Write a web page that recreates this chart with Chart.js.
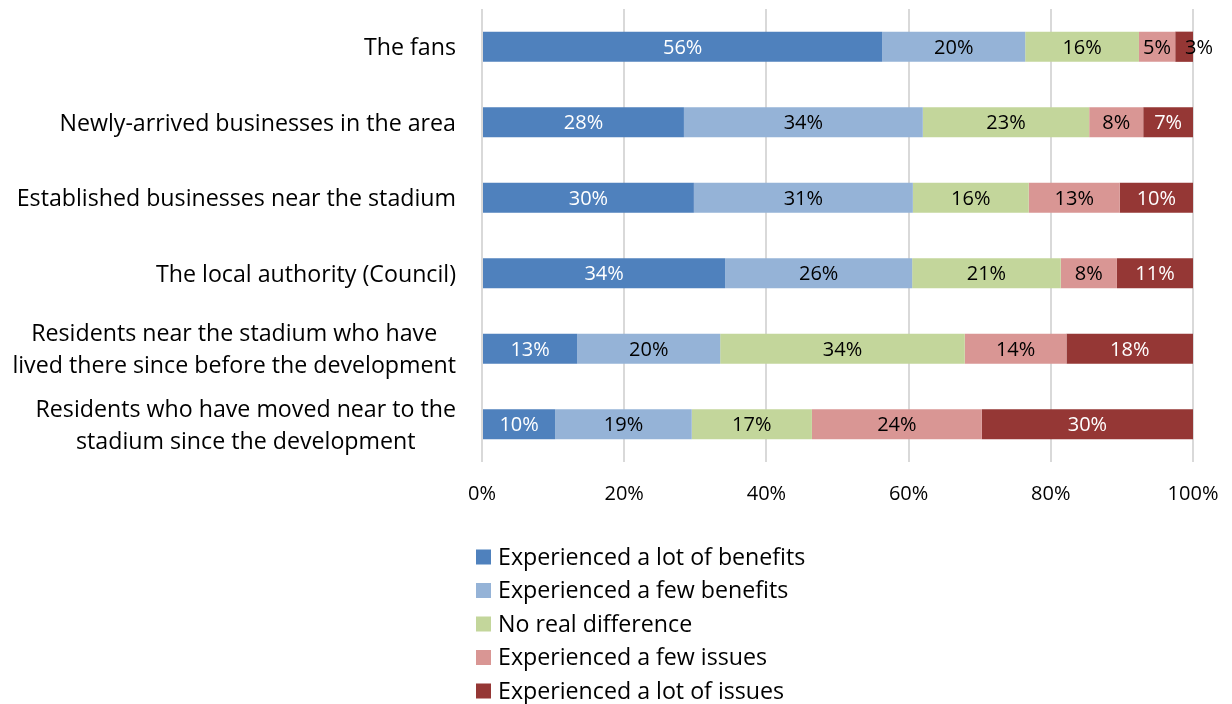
<!DOCTYPE html>
<html>
<head>
<meta charset="utf-8">
<script src="https://cdn.jsdelivr.net/npm/chart.js@4/dist/chart.umd.min.js"></script>
<style>
  html, body { margin: 0; padding: 0; background: #fff; }
  #wrap { width: 1232px; height: 704px; position: relative; }
</style>
</head>
<body>
<div id="wrap"><canvas id="stackChart"></canvas></div>
<script>
// ---- data ----
const categories = [
    ['The fans'],
    ['Newly-arrived businesses in the area'],
    ['Established businesses near the stadium'],
    ['The local authority (Council)'],
    ['Residents near the stadium who have', 'lived there since before the development'],
    ['Residents who have moved near to the', 'stadium since the development']
];
const seriesNames = [
    'Experienced a lot of benefits',
    'Experienced a few benefits',
    'No real difference',
    'Experienced a few issues',
    'Experienced a lot of issues'
];
const lotBenefits = [56.3, 28.4, 29.8, 34.2, 13.4, 10.3];
const fewBenefits = [20.1, 33.6, 30.8, 26.3, 20.1, 19.2];
const noDifference = [16.0, 23.4, 16.3, 20.9, 34.4, 16.9];
const fewIssues   = [5.1, 7.6, 12.8, 7.9, 14.3, 23.9];
const lotIssues   = [2.5, 7.0, 10.3, 10.7, 17.8, 29.7];
const xTicks = [0, 20, 40, 60, 80, 100];

const FONT = '"Open Sans", "Noto Sans", sans-serif';
const colors = ['#4f81bd', '#95b3d7', '#c3d69b', '#d99694', '#953735'];
const labelColors = ['#fff', '#000', '#000', '#000', '#fff'];
const seriesValues = [lotBenefits, fewBenefits, noDifference, fewIssues, lotIssues];

// category labels: block right-aligned, lines centred on each other
const categoryLabels = {
    id: 'categoryLabels',
    afterDraw(chart) {
        const c = chart.ctx, y = chart.scales.y, right = chart.chartArea.left - 26;
        c.save();
        c.font = '23.2px ' + FONT;
        c.fillStyle = '#000';
        c.textAlign = 'center';
        c.textBaseline = 'middle';
        categories.forEach((lines, i) => {
            const mid = y.getPixelForValue(i) + 2;
            const w = Math.max(...lines.map(l => c.measureText(l).width));
            const lh = 32;
            lines.forEach((l, k) => {
                c.fillText(l, right - w / 2, mid + (k - (lines.length - 1) / 2) * lh);
            });
        });
        c.restore();
    }
};

// value labels in the middle of every segment
const valueLabels = {
    id: 'valueLabels',
    afterDatasetsDraw(chart) {
        const c = chart.ctx;
        c.save();
        c.font = '20px ' + FONT;
        c.textAlign = 'center';
        c.textBaseline = 'middle';
        chart.data.datasets.forEach((ds, di) => {
            chart.getDatasetMeta(di).data.forEach((bar, i) => {
                const txt = Math.round(ds.data[i]) + '%';
                const segW = Math.abs(bar.x - bar.base);
                const tw = c.measureText(txt).width;
                let cx = (bar.x + bar.base) / 2;
                c.fillStyle = labelColors[di];
                if (tw > segW + 4) { cx = bar.x + 6; c.fillStyle = '#000'; }
                c.fillText(txt, cx, bar.y + 1.5);
            });
        });
        c.restore();
    }
};

// vertical legend under the plot
const stackLegend = {
    id: 'stackLegend',
    afterDraw(chart) {
        const c = chart.ctx;
        const x0 = 476, y0 = 557, step = 33.5;
        c.save();
        c.font = '23.2px ' + FONT;
        c.textBaseline = 'middle';
        c.textAlign = 'left';
        seriesNames.forEach((name, i) => {
            const y = y0 + i * step;
            c.fillStyle = colors[i];
            c.fillRect(x0, y - 7.5, 15, 15);
            c.fillStyle = '#000';
            c.fillText(name, x0 + 22, y + 1);
        });
        c.restore();
    }
};

new Chart(document.getElementById('stackChart').getContext('2d'), {
    type: 'bar',
    data: {
        labels: categories.map(l => l.join(' ')),
        datasets: seriesNames.map((name, i) => ({
            label: name,
            data: seriesValues[i],
            backgroundColor: colors[i],
            borderWidth: 0,
            barPercentage: 0.4,
            categoryPercentage: 1
        }))
    },
    options: {
        indexAxis: 'y',
        responsive: true,
        maintainAspectRatio: false,
        animation: false,
        layout: { padding: { top: 9, right: 39, left: 0, bottom: 0 } },
        plugins: { legend: { display: false }, tooltip: { enabled: false } },
        scales: {
            x: {
                stacked: true,
                min: 0,
                max: 100,
                afterBuildTicks: s => { s.ticks = xTicks.map(v => ({ value: v })); },
                afterFit: s => { s.height = 242; s.paddingLeft = 0; s.paddingRight = 0; },
                ticks: {
                    color: '#000',
                    font: { family: FONT, size: 20 },
                    padding: 20,
                    callback: v => v + '%'
                },
                grid: { color: '#d9d9d9', lineWidth: 2, drawTicks: false },
                border: { display: false }
            },
            y: {
                stacked: true,
                afterFit: s => { s.width = 482; },
                ticks: { display: false },
                grid: { display: false },
                border: { display: false }
            }
        }
    },
    plugins: [categoryLabels, valueLabels, stackLegend]
});
</script>
</body>
</html>
